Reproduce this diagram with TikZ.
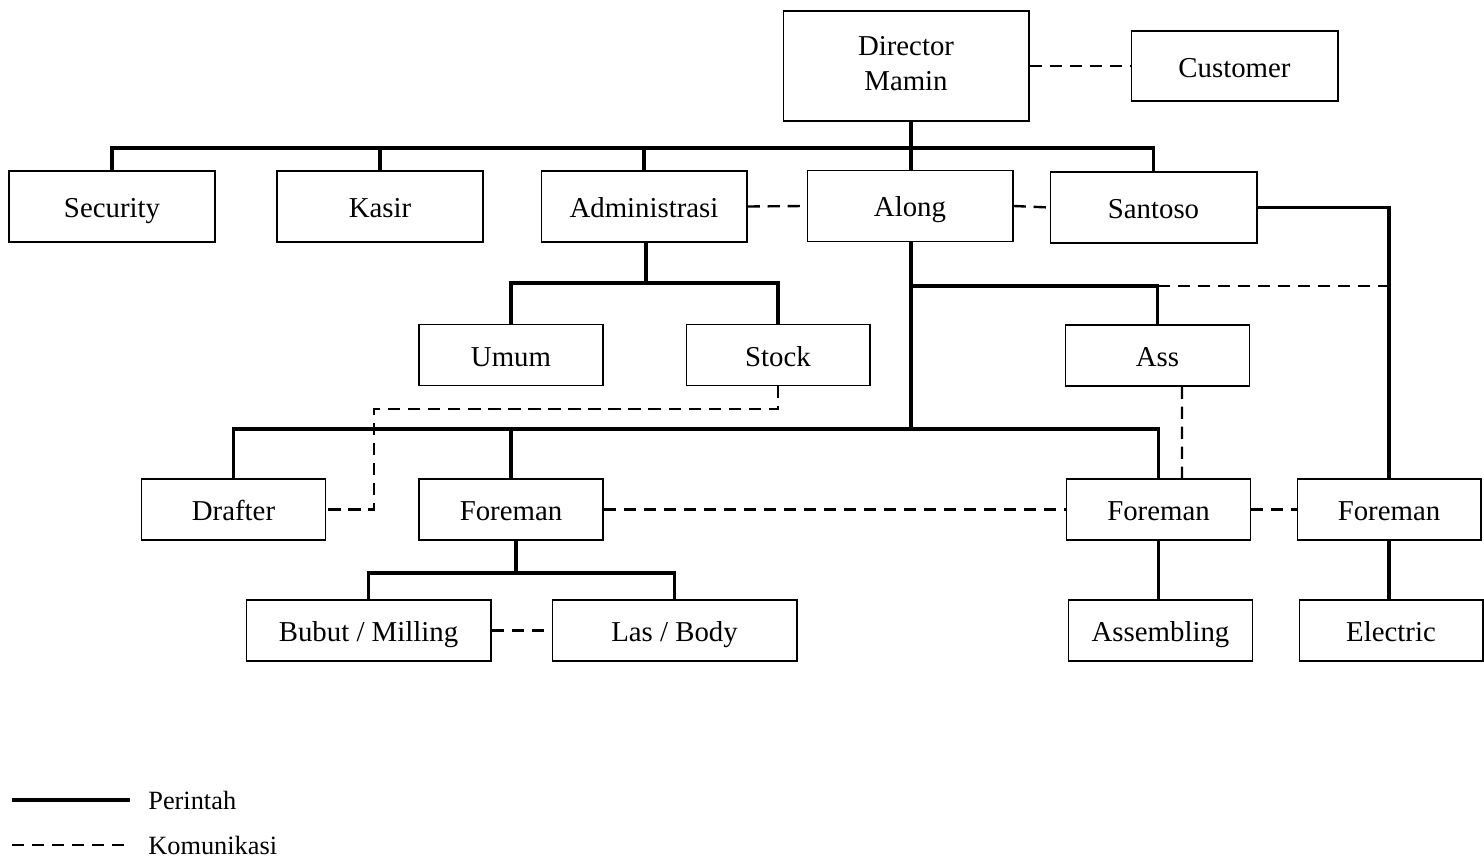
\documentclass[tikz,border=0pt]{standalone}
\usepackage{fontspec}
\setmainfont{Liberation Serif}
\usetikzlibrary{positioning,calc}
\newcommand\bstrut{\rule[-3pt]{0pt}{19pt}}
\tikzstyle{box}=[draw, line width=0.6pt, inner sep=0pt, minimum width=3.68cm, minimum height=1.22cm, font=\fontsize{16.4}{19.5}\selectfont, align=center, execute at begin node=\bstrut]
\tikzstyle{cmd}=[line width=2pt]
\tikzstyle{com}=[line width=1.35pt, dash pattern=on 7pt off 4.4pt]

\begin{document}
\begin{tikzpicture}[x=0.02cm, y=-0.02cm]
				\useasboundingbox (0,0) rectangle (1484,857);
				% boxes
				\node[box, minimum width=4.92cm, minimum height=2.2cm] (dir) at (906,66) {Director\\Mamin};
				\node[box, minimum width=4.14cm, minimum height=1.4cm] (cust) at (1234.5,66) {Customer};
				\node[box, minimum width=4.12cm, minimum height=1.42cm] (sec) at (112,206.5) {Security};
				\node[box, minimum width=4.12cm, minimum height=1.42cm] (kas) at (380,206.5) {Kasir};
				\node[box, minimum width=4.12cm, minimum height=1.42cm] (adm) at (644,206.5) {Administrasi};
				\node[box, minimum width=4.12cm, minimum height=1.42cm] (alo) at (910,206) {Along};
				\node[box, minimum width=4.14cm, minimum height=1.42cm] (san) at (1153.5,207.5) {Santoso};
				\node[box] (umum) at (511,355) {Umum};
				\node[box] (stock) at (778,355) {Stock};
				\node[box] (ass) at (1157.5,355.5) {Ass};
				\node[box] (draf) at (233.5,509.5) {Drafter};
				\node[box] (for1) at (511,509.5) {Foreman};
				\node[box] (for2) at (1158.5,509.5) {Foreman};
				\node[box] (for3) at (1389,509.5) {Foreman};
				\node[box, minimum width=4.9cm] (bubut) at (368.5,630.5) {Bubut / Milling};
				\node[box, minimum width=4.9cm] (las) at (674.5,630.5) {Las / Body};
				\node[box] (asm) at (1160.5,630.5) {Assembling};
				\node[box] (elec) at (1391,630.5) {Electric};
				% perintah
				\coordinate (b1) at (911,148);
				\coordinate (b2) at (646,283);
				\coordinate (b3) at (911,286);
				\coordinate (b4) at (911,429);
				\coordinate (b5) at (516,573);
				\draw[cmd] (dir.south -| b1) -- (alo.north -| b1);
				\draw[cmd] (sec.north) |- (b1) -| (san.north);
				\draw[cmd] (kas.north) -- (kas.north |- b1);
				\draw[cmd] (adm.north) -- (adm.north |- b1);
				\draw[cmd] (adm.south -| b2) -- (b2);
				\draw[cmd] (umum.north) |- (b2) -| (stock.north);
				\draw[cmd] (alo.south -| b4) -- (b4);
				\draw[cmd] (b3) -| (ass.north);
				\draw[cmd] (draf.north) |- (b4) -| (for2.north);
				\draw[cmd] (for1.north) -- (for1.north |- b4);
				\draw[cmd] (san.east) -| (for3.north);
				\draw[cmd] (for1.south -| b5) -- (b5);
				\draw[cmd] (bubut.north) |- (b5) -| (las.north);
				\draw[cmd] (for2.south) -- (for2.south |- asm.north);
				\draw[cmd] (for3.south) -- (for3.south |- elec.north);
				% komunikasi
				\coordinate (sd) at (374,409);
				\draw[com] (dir.east) -- (cust.west);
				\draw[com] (adm.east) -- (alo.west);
				\draw[com] (alo.east) -- (san.west);
				\draw[com] (ass.north |- b3) -- (for3.north |- b3);
				\draw[com] (stock.south) |- (sd) |- (draf.east);
				\draw[com] ([xshift=0.49cm]ass.south) -- ([xshift=0.47cm]for2.north);
				\draw[com] (for1.east) -- (for2.west);
				\draw[com] (for2.east) -- (for3.west);
				\draw[com] (bubut.east) -- (las.west);
				% keterangan
				\coordinate (p1) at (12,800);
				\coordinate (k1) at (12,845);
				\node[anchor=west, inner sep=0pt, font=\fontsize{15}{18}\selectfont] (per) at (148,800) {Perintah};
				\node[anchor=west, inner sep=0pt, font=\fontsize{15}{18}\selectfont] (kom) at (148,845) {Komunikasi};
				\draw[cmd] (p1) -- ($(per.west)+(-18,0)$);
				\draw[com] (k1) -- ($(kom.west)+(-17,0)$);
			\end{tikzpicture}
\end{document}
